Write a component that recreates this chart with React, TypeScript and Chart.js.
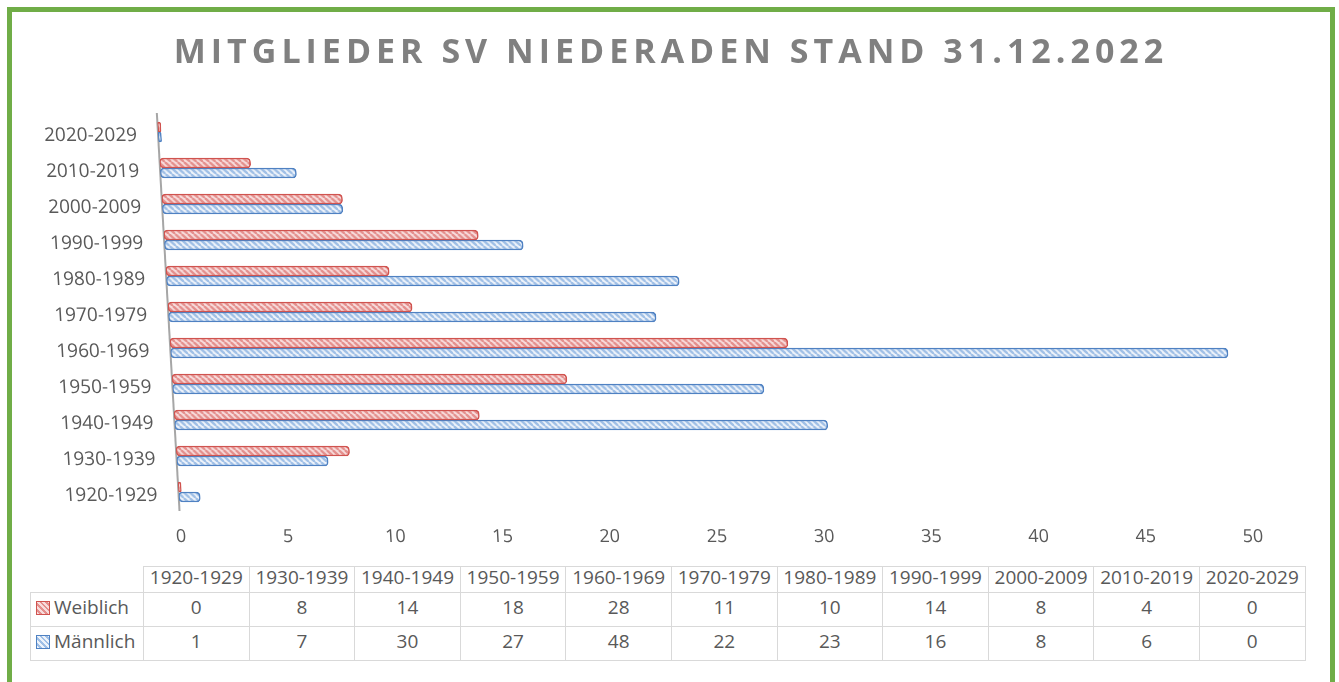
import React, { useEffect, useRef } from "react";
import { Chart, registerables } from "chart.js";

Chart.register(...registerables);

const TITLE = "MITGLIEDER SV NIEDERADEN STAND 31.12.2022";
const categories = [
  "1920-1929", "1930-1939", "1940-1949", "1950-1959", "1960-1969", "1970-1979",
  "1980-1989", "1990-1999", "2000-2009", "2010-2019", "2020-2029",
];
const seriesNames = ["Weiblich", "Männlich"];
const weiblich = [0, 8, 14, 18, 28, 11, 10, 14, 8, 4, 0];
const maennlich = [1, 7, 30, 27, 48, 22, 23, 16, 8, 6, 0];
const xMin = 0;
const xMax = 50;
const xStep = 5;

const RED = { border: "#d0534f", light: "#f7dcdc", stripe: "#e48f8d" };
const BLUE = { border: "#4f81c2", light: "#eef3fa", stripe: "#9fbfe6" };
const TEXT = "#595959";
const FONT = "'Open Sans', 'Noto Sans', sans-serif";

function makePattern(light: string, stripe: string): CanvasPattern | string {
  const c = document.createElement("canvas");
  const n = 6;
  c.width = n;
  c.height = n;
  const g = c.getContext("2d");
  if (!g) return light;
  g.fillStyle = light;
  g.fillRect(0, 0, n, n);
  g.strokeStyle = stripe;
  g.lineWidth = 2.4;
  for (const off of [-n, 0, n]) {
    g.beginPath();
    g.moveTo(off, 0);
    g.lineTo(off + n, n);
    g.stroke();
  }
  return g.createPattern(c, "repeat") || light;
}

// 3D-look: axis plane slants slightly, bars get a mild depth scaling
const SKEW = 0.057;
const DEPTH = 0.00017;

const perspectivePlugin = {
  id: "perspective",
  afterDatasetsUpdate(chart: any) {
    chart.data.datasets.forEach((_ds: any, i: number) => {
      const meta = chart.getDatasetMeta(i);
      meta.data.forEach((el: any) => {
        if (el._perspWrapped) return;
        const orig = el.draw;
        el.draw = function (ctx: CanvasRenderingContext2D) {
          const yRef = chart.chartArea.bottom + 5;
          const s = 1 + DEPTH * (yRef - this.y);
          const x0 = this.base;
          ctx.save();
          ctx.translate(x0, 0);
          ctx.scale(s, 1);
          ctx.translate(-x0, 0);
          orig.call(this, ctx);
          ctx.restore();
        };
        el._perspWrapped = true;
      });
    });
  },
  beforeDraw(chart: any) {
    const ctx = chart.ctx;
    const yRef = chart.chartArea.bottom + 27;
    ctx.save();
    // x' = x + SKEW*(y - yRef)
    ctx.setTransform(1, 0, SKEW, 1, -SKEW * yRef, 0);
  },
  afterDraw(chart: any) {
    const ctx = chart.ctx;
    ctx.restore();
    ctx.save();
    ctx.font = `bold 34px ${FONT}`;
    ctx.fillStyle = "#808080";
    ctx.textAlign = "center";
    ctx.textBaseline = "alphabetic";
    (ctx as any).letterSpacing = "5px";
    ctx.fillText(TITLE, chart.width / 2, 51);
    ctx.restore();
  },
};

function ChartCanvas() {
  const ref = useRef<HTMLCanvasElement | null>(null);
  useEffect(() => {
    if (!ref.current) return;
    const redPat = makePattern(RED.light, RED.stripe);
    const bluePat = makePattern(BLUE.light, BLUE.stripe);
    const chart = new Chart(ref.current, {
      type: "bar",
      data: {
        labels: categories,
        datasets: [
          {
            label: seriesNames[0],
            data: weiblich,
            backgroundColor: redPat as any,
            borderColor: RED.border,
            borderWidth: 1.5,
            borderRadius: 4,
            borderSkipped: false,
            barThickness: 10,
            minBarLength: 3,
          },
          {
            label: seriesNames[1],
            data: maennlich,
            backgroundColor: bluePat as any,
            borderColor: BLUE.border,
            borderWidth: 1.5,
            borderRadius: 4,
            borderSkipped: false,
            barThickness: 10,
            minBarLength: 3,
          },
        ],
      },
      options: {
        indexAxis: "y",
        animation: false,
        responsive: false,
        events: [],
        layout: { padding: { top: 102, right: 77, left: 0, bottom: 0 } },
        plugins: {
          legend: { display: false },
          title: { display: false },
          tooltip: { enabled: false },
        },
        scales: {
          x: {
            type: "linear",
            min: xMin,
            max: xMax,
            ticks: { stepSize: xStep, color: TEXT, font: { family: FONT, size: 18 }, padding: 16 },
            grid: { display: false, drawTicks: false },
            border: { display: false },
            afterFit(scale: any) {
              scale.height = 50;
            },
          },
          y: {
            type: "category",
            reverse: true,
            ticks: { color: TEXT, font: { family: FONT, size: 19 }, padding: 21, labelOffset: 4 },
            grid: { display: false, drawTicks: false },
            border: { display: true, color: "#a6a6a6", width: 2 },
            afterFit(scale: any) {
              scale.width = 169;
            },
          },
        },
      } as any,
      plugins: [perspectivePlugin as any],
    });
    return () => chart.destroy();
  }, []);
  return <canvas ref={ref} width={1318} height={548} style={{ width: 1318, height: 548, display: "block" }} />;
}

function Swatch({ c }: { c: { border: string; light: string; stripe: string } }) {
  return (
    <span
      style={{
        display: "inline-block",
        width: 12,
        height: 12,
        border: `1px solid ${c.border}`,
        background: `repeating-linear-gradient(45deg, ${c.light} 0px, ${c.light} 2px, ${c.stripe} 2px, ${c.stripe} 4px)`,
        marginRight: 4,
        verticalAlign: "-1px",
      }}
    />
  );
}

function DataTable() {
  const cell: React.CSSProperties = {
    border: "1px solid #d9d9d9",
    textAlign: "center",
    padding: "0 0 5px 0",
    lineHeight: "20px",
    color: TEXT,
    fontFamily: FONT,
    fontSize: 19,
    whiteSpace: "nowrap",
    overflow: "hidden",
  };
  const rows = [
    { name: seriesNames[0], values: weiblich, c: RED },
    { name: seriesNames[1], values: maennlich, c: BLUE },
  ];
  return (
    <table
      style={{
        position: "absolute",
        left: 30,
        top: 566,
        borderCollapse: "collapse",
        tableLayout: "fixed",
        width: 113 + 11 * 105.6,
      }}
    >
      <colgroup>
        <col style={{ width: 113 }} />
        {categories.map((c) => (
          <col key={c} style={{ width: 105.6 }} />
        ))}
      </colgroup>
      <tbody>
        <tr style={{ height: 26 }}>
          <td style={{ ...cell, borderTop: "none", borderLeft: "none" }} />
          {categories.map((c) => (
            <td key={c} style={cell}>
              {c}
            </td>
          ))}
        </tr>
        {rows.map((r) => (
          <tr key={r.name} style={{ height: 34 }}>
            <td style={{ ...cell, textAlign: "left", paddingLeft: 5 }}>
              <Swatch c={r.c} />
              {r.name}
            </td>
            {r.values.map((v, i) => (
              <td key={i} style={cell}>
                {v}
              </td>
            ))}
          </tr>
        ))}
      </tbody>
    </table>
  );
}

export default function App() {
  return (
    <div
      style={{
        position: "fixed",
        left: 0,
        top: 0,
        width: 1339,
        height: 682,
        background: "#ffffff",
        overflow: "hidden",
      }}
    >
      <div
        style={{
          position: "absolute",
          left: 7,
          top: 7,
          width: 1328,
          height: 700,
          boxSizing: "border-box",
          border: "5px solid #70ad47",
        }}
      />
      <div style={{ position: "absolute", left: 12, top: 12 }}>
        <ChartCanvas />
      </div>
      <DataTable />
    </div>
  );
}
